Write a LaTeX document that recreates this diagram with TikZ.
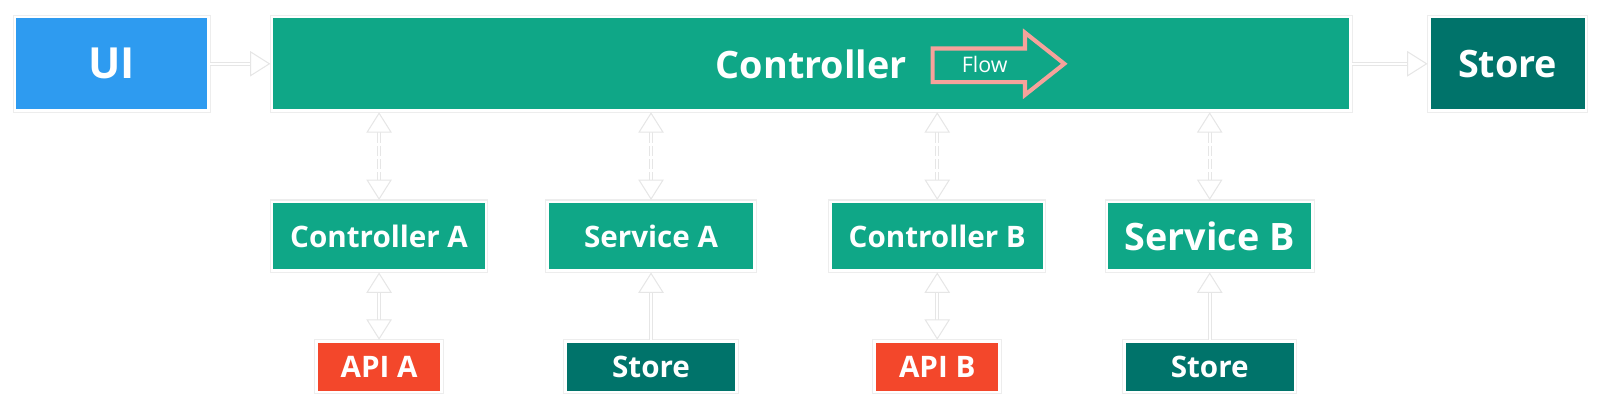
\documentclass[tikz,border=0pt]{standalone}
\usepackage{fontspec}
\setmainfont{Open Sans}
\usetikzlibrary{arrows.meta}
\definecolor{cblue}{HTML}{2E9BF0}
\definecolor{cgreen}{HTML}{0FA787}
\definecolor{cdark}{HTML}{00736A}
\definecolor{cred}{HTML}{F3472B}
\definecolor{cflow}{HTML}{F6A29B}
\definecolor{cline}{HTML}{E6E6E6}
\begin{document}
\begin{tikzpicture}[x=1pt,y=1pt,
 box/.style={fill=#1, text=white, inner sep=0pt, outer sep=3pt},
 big/.style={font=\bfseries\fontsize{37}{42}\selectfont},
 small/.style={font=\bfseries\fontsize{29}{34}\selectfont},
 frame/.style={draw=black!7, line width=1pt},
 conn/.style={draw=cline, double=white, double distance=2.2pt, line width=0.9pt},
 >={Triangle[open, length=20pt, width=25pt, line width=1pt, fill=white]}
]
\useasboundingbox (0,0) rectangle (1568,-400.8);
% top row
\node[box=cblue, minimum width=187pt, minimum height=89pt, font=\bfseries\fontsize{42}{48}\selectfont] (ui) at (109.5,-62.5) {UI};
\node[box=cgreen, big, minimum width=1054pt, minimum height=89pt] (ctrl) at (795,-62.5) {};
\node[text=white, big, inner sep=0pt] (ctrltext) at (795,-63) {Controller};
\node[box=cdark, big, minimum width=151pt, minimum height=89pt] (store) at (1477.5,-62.5) {Store};
% flow arrow
\draw[cflow, line width=4pt, line join=miter] (914,-47.5) -- (1004.5,-47.5) -- (1004.5,-32) -- (1043,-62.5) -- (1004.5,-93) -- (1004.5,-80.5) -- (914,-80.5) -- cycle;
\node[text=white, inner sep=0pt, font=\fontsize{21}{24}\selectfont] (flow) at (965,-63.5) {Flow};
% middle row
\node[box=cgreen, small, minimum width=207pt, minimum height=65pt] (ca) at (371.5,-231.5) {Controller A};
\node[box=cgreen, small, minimum width=200pt, minimum height=65pt] (sa) at (638,-231.5) {Service A};
\node[box=cgreen, small, minimum width=207pt, minimum height=65pt] (cb) at (918.5,-231.5) {Controller B};
\node[box=cgreen, big, minimum width=199pt, minimum height=65pt] (sb) at (1185.5,-231.5) {Service B};
% bottom row
\node[box=cred, small, minimum width=120pt, minimum height=47pt] (apia) at (371.5,-359.5) {API A};
\node[box=cdark, small, minimum width=165pt, minimum height=47pt] (st1) at (638,-359.5) {Store};
\node[box=cred, small, minimum width=120pt, minimum height=47pt] (apib) at (918.5,-359.5) {API B};
\node[box=cdark, small, minimum width=165pt, minimum height=47pt] (st2) at (1185.5,-359.5) {Store};
% frames
\foreach \n in {ui,ctrl,store,ca,sa,cb,sb,apia,st1,apib,st2}
  \draw[frame] (\n.north west) rectangle (\n.south east);
% connectors
\draw[conn, ->] (ui) -- (ctrl);
\draw[conn, ->] (ctrl) -- (store);
\foreach \n in {ca,sa,cb,sb}
  \draw[conn, dash pattern=on 10pt off 3pt, <->] (ctrl.south -| \n.north) -- (\n.north);
\draw[conn, <->] (ca.south) -- (apia.north);
\draw[conn, <->] (cb.south) -- (apib.north);
\draw[conn, ->] (st1.north) -- (sa.south);
\draw[conn, ->] (st2.north) -- (sb.south);
\end{tikzpicture}
\end{document}
